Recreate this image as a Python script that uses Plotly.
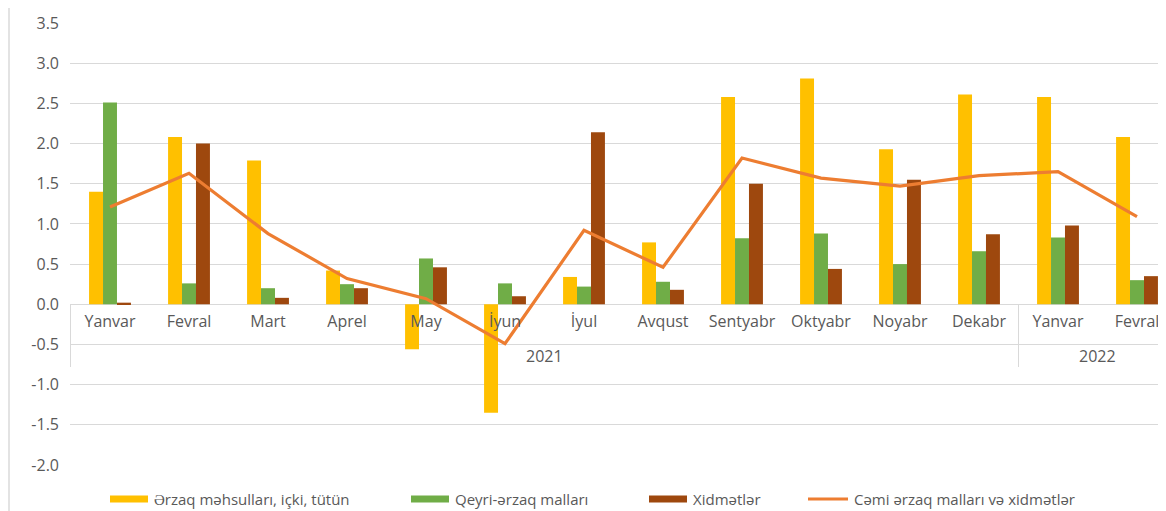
import plotly.graph_objects as go

# ---------------- data ----------------
months = ["Yanvar", "Fevral", "Mart", "Aprel", "May", "İyun", "İyul", "Avqust",
          "Sentyabr", "Oktyabr", "Noyabr", "Dekabr", "Yanvar", "Fevral"]
years = ["2021"] * 12 + ["2022"] * 2

food = [1.40, 2.08, 1.79, 0.42, -0.56, -1.35, 0.34, 0.77, 2.58, 2.81, 1.93, 2.61, 2.58, 2.08]
nonfood = [2.51, 0.26, 0.20, 0.25, 0.57, 0.26, 0.22, 0.28, 0.82, 0.88, 0.50, 0.66, 0.83, 0.30]
services = [0.02, 2.00, 0.08, 0.20, 0.46, 0.10, 2.14, 0.18, 1.50, 0.44, 1.55, 0.87, 0.98, 0.35]
total = [1.21, 1.63, 0.88, 0.32, 0.07, -0.49, 0.92, 0.46, 1.82, 1.57, 1.47, 1.60, 1.65, 1.09]

names = ["Ərzaq məhsulları, içki, tütün", "Qeyri-ərzaq malları", "Xidmətlər",
         "Cəmi ərzaq malları və xidmətlər"]
colors = ["#FFC000", "#70AD47", "#9E480E", "#ED7D31"]

y_ticks = [3.5, 3.0, 2.5, 2.0, 1.5, 1.0, 0.5, 0.0, -0.5, -1.0, -1.5, -2.0]

# ---------------- style ----------------
FONT = "Open Sans"
GREY = "#595959"
GRID = "#D9D9D9"

# the page body has an 8px margin, so the figure is sized/offset to compensate
OFF = 8
W, H = 1166 - OFF, 511 - OFF
ml, mr, mt, mb = 62, 0, 15, 46
plot_w = W - ml - mr
plot_h = H - mt - mb
CAT_W = 79.0                      # pixels per category
first_center = 110 - OFF - ml     # first category centre, px from plot left
x0 = -first_center / CAT_W
x_range = [x0, x0 + plot_w / CAT_W]

ymin, ymax = -2.0, 3.5
zero_pos = (0 - ymin) / (ymax - ymin)


def py(screen_y):
    """screen y pixel -> paper y"""
    return (H - mb + OFF - screen_y) / plot_h


def px(screen_x):
    """screen x pixel -> paper x"""
    return (screen_x - OFF - ml) / plot_w


xpos = list(range(len(months)))

fig = go.Figure()
for vals, name, col in zip([food, nonfood, services], names[:3], colors[:3]):
    fig.add_trace(go.Bar(x=xpos, y=vals, name=name,
                         marker=dict(color=col, line=dict(width=0))))
fig.add_trace(go.Scatter(x=xpos, y=total, name=names[3], mode="lines",
                         line=dict(color=colors[3], width=3.2)))

fig.update_layout(
    width=W, height=H,
    margin=dict(l=ml, r=mr, t=mt, b=mb, pad=0),
    paper_bgcolor="white", plot_bgcolor="white",
    font=dict(family=FONT, size=16, color=GREY),
    barmode="group", bargap=0.47, bargroupgap=0,
    showlegend=False,
    xaxis=dict(range=x_range, anchor="free", position=zero_pos,
               tickvals=xpos, ticktext=months,
               showline=False, showgrid=False, zeroline=False, ticks="",
               ticklabelstandoff=6,
               tickfont=dict(family=FONT, size=16, color=GREY), automargin=False),
    yaxis=dict(range=[ymin, ymax], tickvals=y_ticks,
               ticktext=[f"{v:.1f}" for v in y_ticks],
               showgrid=True, gridcolor=GRID, gridwidth=1, zeroline=False,
               showline=False, ticks="", ticklabelstandoff=10,
               tickfont=dict(family=FONT, size=16, color=GREY),
               automargin=False),
)

# year labels and group dividers of the category axis
for yr in ["2021", "2022"]:
    idx = [i for i, y in enumerate(years) if y == yr]
    fig.add_annotation(x=(idx[0] + idx[-1]) / 2, y=py(356), xref="x", yref="paper",
                       text=yr, showarrow=False, yanchor="middle",
                       font=dict(family=FONT, size=16, color=GREY))
bounds = [i - 0.5 for i in range(len(years)) if i == 0 or years[i] != years[i - 1]]
bounds.append(len(years) - 0.5)
for b in bounds:
    fig.add_shape(type="line", xref="x", yref="paper", x0=b, x1=b,
                  y0=zero_pos, y1=py(367), line=dict(color=GRID, width=1))

# chart frame at the left edge
fig.add_shape(type="line", xref="paper", yref="paper",
              x0=px(OFF + 1), x1=px(OFF + 1), y0=py(511), y1=py(0),
              line=dict(color="#E3E3E3", width=2))

# legend (wide swatches like the original)
leg_y = 499
swatches = [(110, 148), (411, 449), (649, 687), (808, 848)]
for i, (name, col, (sx0, sx1)) in enumerate(zip(names, colors, swatches)):
    if i < 3:
        fig.add_shape(type="rect", xref="paper", yref="paper",
                      x0=px(sx0), x1=px(sx1), y0=py(leg_y + 3.5), y1=py(leg_y - 3.5),
                      fillcolor=col, line=dict(width=0))
    else:
        fig.add_shape(type="line", xref="paper", yref="paper",
                      x0=px(sx0), x1=px(sx1), y0=py(leg_y), y1=py(leg_y),
                      line=dict(color=col, width=3))
    fig.add_annotation(x=px(sx1 + 4), y=py(leg_y), xref="paper", yref="paper",
                       text=name, showarrow=False, xanchor="left", yanchor="middle",
                       font=dict(family=FONT, size=15, color=GREY))

fig.write_html("out.html")
